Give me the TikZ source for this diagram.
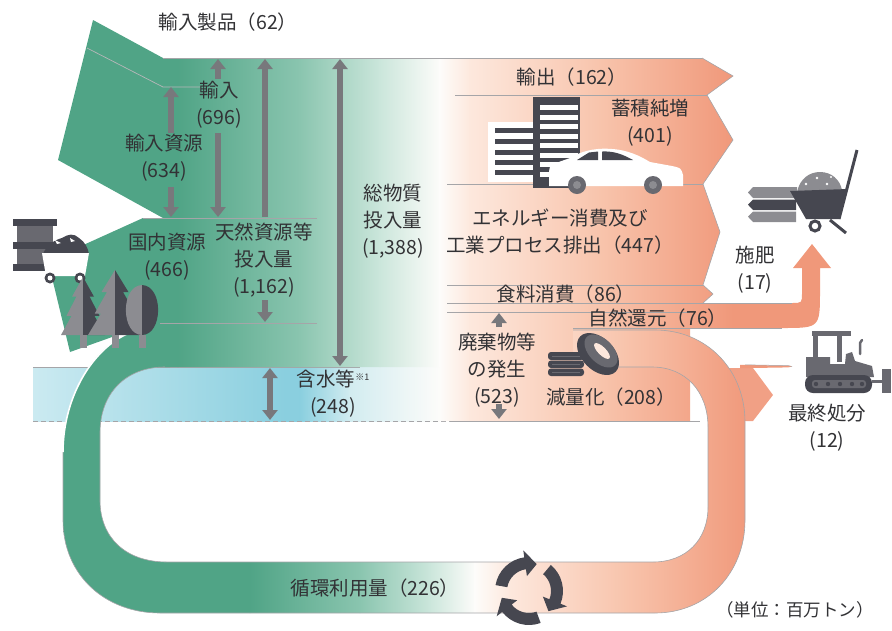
\documentclass[tikz,border=0pt]{standalone}
\usepackage{fontspec}
\newfontfamily\jpfont{Noto Sans CJK JP}
\usetikzlibrary{arrows.meta}

\definecolor{flowG}{RGB}{80,164,134}
\definecolor{flowGa}{RGB}{138,197,175}
\definecolor{flowGb}{RGB}{203,230,219}
\definecolor{flowW}{RGB}{253,252,250}
\definecolor{flowPa}{RGB}{253,232,221}
\definecolor{flowPb}{RGB}{248,196,172}
\definecolor{flowPc}{RGB}{240,152,122}
\definecolor{waterA}{RGB}{203,234,241}
\definecolor{waterB}{RGB}{138,207,223}
\definecolor{waterC}{RGB}{210,236,240}
\definecolor{edgegray}{RGB}{165,165,168}
\definecolor{arrowgray}{RGB}{120,120,124}
\definecolor{icondark}{RGB}{70,71,80}
\definecolor{iconmid}{RGB}{105,105,112}
\definecolor{iconlight}{RGB}{140,140,145}
\definecolor{textgray}{RGB}{50,50,53}

% horizontal piecewise gradient: top y, bottom y, list of x0/c0/x1/c1
\newcommand\hgrad[3]{%
  \foreach \xa/\ca/\xb/\cb in {#3} {%
    \shade[left color=\ca,right color=\cb] (\xa-0.4,#1) rectangle (\xb+0.4,#2);}}

% conifer: centre x, top y, base y, half width
\newcommand\mkconifer[4]{%
  \pgfmathsetmacro\ch{#3-#2}%
  \fill[iconlight] (#1,#2) -- (#1-0.5*#4,#2+0.34*\ch) -- (#1-0.3*#4,#2+0.34*\ch)
    -- (#1-0.75*#4,#2+0.67*\ch) -- (#1-0.52*#4,#2+0.67*\ch) -- (#1-#4,#3) -- (#1,#3) -- cycle;
  \fill[icondark] (#1,#2) -- (#1+0.5*#4,#2+0.34*\ch) -- (#1+0.3*#4,#2+0.34*\ch)
    -- (#1+0.75*#4,#2+0.67*\ch) -- (#1+0.52*#4,#2+0.67*\ch) -- (#1+#4,#3) -- (#1,#3) -- cycle;
  \fill[iconlight] (#1-3.5,#3) rectangle (#1+3.5,#3+13);}

% curved arrow of the recycling mark: start angle, end angle
\newcommand\recycarrow[2]{%
  \fill[icondark] (#1:34) arc[start angle=#1, end angle=#2, radius=34] -- (#2:41)
    -- ({#2+24}:28) -- (#2:15) -- (#2:22) arc[start angle=#2, end angle=#1, radius=22] -- cycle;}

\def\mainpath{(163,58) -- (702,58) -- (733,76) -- (707,95) -- (733,140) -- (703,184)
  -- (720,232) -- (703,285) -- (713,294) -- (703,303) -- (792,303) .. controls (802,303) .. (802,293)
  -- (802,268) -- (793,268) -- (812,244) -- (831,268) -- (820,268) -- (820,290)
  .. controls (820,328) .. (782,328) -- (690,328) -- (690,421) -- (440,421) -- (440,367)
  -- (143,367) -- (143,218) -- (163,218) -- cycle}

\def\looppath{(130,333) .. controls (95,345) and (63,395) .. (63,450) -- (63,520)
  .. controls (63,575) and (105,613) .. (160,613) -- (655,613)
  .. controls (707,613) and (745,573) .. (745,520) -- (745,422)
  .. controls (745,370) and (707,330) .. (655,330) -- (573,330) -- (573,367) -- (652,367)
  .. controls (686,367) and (708,392) .. (708,427) -- (708,507)
  .. controls (708,540) and (686,562) .. (653,562) -- (167,562)
  .. controls (126,562) and (100,538) .. (100,500) -- (100,433)
  .. controls (100,393) and (126,367) .. (165,367) -- (170,367) -- (170,330) -- cycle}

\begin{document}
\begin{tikzpicture}[x=1pt,y=-1pt,
  lbl/.style={font=\jpfont\fontsize{19.5}{27}\selectfont, text=textgray, align=center, inner sep=0pt},
  unitlbl/.style={lbl, font=\jpfont\fontsize{17.5}{22}\selectfont},
  flowedge/.style={draw=edgegray, line width=0.8pt},
  dimarrow/.style={draw=arrowgray, line width=5.5pt, -{Triangle[length=10pt,width=15pt]}},
  dimboth/.style={draw=arrowgray, line width=5.5pt,
    {Triangle[length=10pt,width=15pt]}-{Triangle[length=10pt,width=15pt]}}]
\useasboundingbox (0,0) rectangle (892,630);

% water content band
\begin{scope}
  \clip (33,367) rectangle (440,421);
  \hgrad{367}{421}{33/waterA/285/waterB, 285/waterB/300/waterB, 300/waterB/350/waterC, 350/waterC/440/flowW}
\end{scope}
\draw[flowedge] (33,367) -- (360,367);
\draw[flowedge, dashed, dash pattern=on 5pt off 3pt] (33,421) -- (450,421);

% imported and domestic resources
\fill[flowG] (93,20) -- (163,58) -- (163,218) -- (58,160) -- cycle;
\fill[flowG] (143,218) -- (48,261) -- (70,352) -- (143,326) -- cycle;

% main flow band
\begin{scope}
  \clip \mainpath;
  \hgrad{50}{425}{140/flowG/178/flowG, 178/flowG/300/flowGa, 300/flowGa/380/flowGb, 380/flowGb/440/flowW, 440/flowW/470/flowPa, 470/flowPa/600/flowPb, 600/flowPb/733/flowPc, 733/flowPc/840/flowPc}
\end{scope}

% final disposal
\fill[flowPc!92!white] (715,368) -- (753,368) -- (773,395) -- (753,421) -- (715,421) -- cycle;
\fill[flowPc] (740,364.8) -- (788,365.6) -- (792,366.5) -- (788,367.4) -- (740,368.2) -- cycle;
\draw[edgegray, line width=0.5pt] (745,364.8) -- (788,365.6) -- (792,366.5);

% recycling loop
\begin{scope}
  \clip \looppath;
  \hgrad{325}{620}{40/flowG/250/flowG, 250/flowG/360/flowGa, 360/flowGa/430/flowGb, 430/flowGb/475/flowW, 475/flowW/510/flowPa, 510/flowPa/625/flowPb, 625/flowPb/750/flowPc}
\end{scope}
\draw[flowedge, line width=0.6pt] (573,330) -- (655,330) .. controls (707,330) and (745,370) .. (745,422)
  -- (745,520) .. controls (745,573) and (707,613) .. (655,613) -- (160,613)
  .. controls (105,613) and (63,575) .. (63,520) -- (63,450);
\draw[white, line width=1.6pt] (63,452) .. controls (63,395) and (95,345) .. (132,332);
\draw[flowedge, line width=0.6pt] (618,367) -- (652,367) .. controls (686,367) and (708,392) .. (708,427)
  -- (708,507) .. controls (708,540) and (686,562) .. (653,562) -- (167,562)
  .. controls (126,562) and (100,538) .. (100,500) -- (100,433)
  .. controls (100,393) and (126,367) .. (165,367);

% band separators
\draw[edgegray!80, line width=0.7pt] (87,48) -- (163,87) -- (200,87);
\draw[flowedge] (163,58) -- (702,58);
\draw[flowedge, line width=0.6pt] (702,58) -- (733,76) -- (707,95) -- (733,140) -- (703,184)
  -- (720,232) -- (703,285) -- (713,294) -- (703,303);
\draw[flowedge] (143,218) -- (317,218);
\draw[flowedge] (160,323) -- (317,323);
\draw[flowedge] (455,95) -- (707,95);
\draw[flowedge] (447,184) -- (703,184);
\draw[flowedge] (447,285) -- (703,285);
\draw[flowedge] (447,303) -- (792,303);
\draw[flowedge] (447,312) -- (690,312);
\draw[flowedge] (573,328) -- (782,328);
\draw[flowedge] (450,421) -- (700,421);

% dimension arrows
\coordinate (ir1) at (171,133); \coordinate (ir2) at (171,87);
\coordinate (ir3) at (171,187); \coordinate (ir4) at (171,217);
\coordinate (im1) at (218,79);  \coordinate (im2) at (218,59);
\coordinate (im3) at (218,133); \coordinate (im4) at (218,217);
\coordinate (nr1) at (265,217); \coordinate (nr2) at (265,59);
\coordinate (nr3) at (265,300); \coordinate (nr4) at (265,322);
\coordinate (tm1) at (340,59);  \coordinate (tm2) at (340,366);
\coordinate (wc1) at (270,368); \coordinate (wc2) at (270,420);
\coordinate (wg1) at (499,327); \coordinate (wg2) at (499,313);
\coordinate (wg3) at (499,404); \coordinate (wg4) at (499,419);
\draw[dimarrow] (ir1) -- (ir2);
\draw[dimarrow] (ir3) -- (ir4);
\draw[dimarrow] (im1) -- (im2);
\draw[dimarrow] (im3) -- (im4);
\draw[dimarrow] (nr1) -- (nr2);
\draw[dimarrow] (nr3) -- (nr4);
\draw[dimboth] (tm1) -- (tm2);
\draw[dimboth] (wc1) -- (wc2);
\draw[dimarrow] (wg1) -- (wg2);
\draw[dimarrow] (wg3) -- (wg4);

% barrel and mine cart
\fill[iconmid] (17,224) rectangle (53,266);
\fill[icondark] (13,219) rectangle (57,226);
\fill[icondark] (13,242) rectangle (57,249);
\fill[icondark] (13,264) rectangle (57,271);
\fill[icondark] (43,254) .. controls (47,244) and (55,240) .. (62,238) .. controls (68,234) and (74,233) .. (79,238)
  .. controls (85,242) and (88,248) .. (89,254) -- cycle;
\fill[white] (55,240) -- (61,243) -- (57,244) -- cycle;
\fill[white] (70,238) -- (75,241) -- (71,242) -- cycle;
\fill[white] (42,253) -- (89,253) -- (85,276) -- (46,276) -- cycle;
\fill[icondark] (50,278) circle (5.5);
\fill[white] (50,278) circle (2.5);
\fill[icondark] (80,278) circle (5.5);
\fill[white] (80,278) circle (2.5);

% trees
\mkconifer{83}{277}{335}{22}
\mkconifer{115}{270}{335}{27}
\fill[iconlight] (142,285) .. controls (120,286) and (121,335) .. (142,335) -- cycle;
\fill[icondark] (142,285) .. controls (164,286) and (163,335) .. (142,335) -- cycle;
\fill[iconlight] (138.5,335) rectangle (146,348);

% buildings and car
\fill[white] (488,122) rectangle (536,182);
\foreach \yy in {128,139,150,160,170} {\fill[icondark] (495,\yy) rectangle (536,\yy+5);}
\fill[icondark] (533,97) rectangle (580,188);
\foreach \yy in {0,...,7} {\fill[white] (540,105+9.5*\yy) rectangle (578,110+9.5*\yy);}
\fill[white] (549,186) -- (549,172) .. controls (550,165) .. (556,163) -- (570,158)
  .. controls (585,149) and (600,148) .. (612,149) .. controls (628,150) and (640,156) .. (650,162)
  -- (672,166) .. controls (681,168) .. (683,175) -- (683,186) -- cycle;
\fill[icondark] (577,160) -- (589,152.5) -- (598,151.5) -- (598,160) -- cycle;
\fill[icondark] (602,160) -- (602,151.5) .. controls (614,151) and (622,154) .. (633,160) -- cycle;
\fill[iconmid] (577,185) circle (9);
\fill[iconlight] (577,185) circle (4);
\fill[iconmid] (653,185) circle (9);
\fill[iconlight] (653,185) circle (4);

% wheelbarrow with fertiliser
\fill[iconlight] (753,187) -- (797,187) -- (797,198) -- (753,198) -- (748,192.5) -- cycle;
\fill[icondark] (753,199.5) -- (796,199.5) -- (796,210) -- (753,210) -- (748,204.7) -- cycle;
\fill[iconlight] (753,211.5) -- (796,211.5) -- (796,222) -- (753,222) -- (748,216.7) -- cycle;
\fill[iconlight] (797,192) .. controls (800,178) and (810,172) .. (820,172) .. controls (832,172) and (840,180) .. (842,190) -- cycle;
\fill[white] (806,184) circle (1.4); \fill[white] (817,178) circle (1.4);
\fill[white] (827,184) circle (1.4); \fill[white] (831,177) circle (1.2);
\fill[icondark] (790,191) -- (848,189) -- (839,219) -- (806,219) -- cycle;
\draw[icondark, line width=3pt] (839,219) -- (857,150);
\draw[icondark, line width=3pt] (830,220) -- (846,233);
\draw[icondark, line width=3pt] (815,226) circle (5);

% bulldozer
\fill[iconmid] (812,331) rectangle (851,336);
\fill[iconmid] (813,336) rectangle (818,358);
\fill[iconmid] (837,336) rectangle (842,362);
\fill[iconmid] (806,357) -- (830,357) -- (830,364) -- (845,364) -- (846,354) -- (852,352) -- (855,361)
  -- (872,366) -- (874,377) -- (806,377) -- cycle;
\draw[iconmid, line width=2.5pt, line cap=round] (860,354) -- (860,343) -- (862,340);
\fill[icondark, rounded corners=8pt] (805,375) rectangle (872,393);
\fill[iconmid, rounded corners=3pt] (812,380) rectangle (866,388);
\foreach \xx in {816,828,840,852,862} {\fill[icondark] (\xx,384) circle (2.2);}
\draw[iconmid, line width=3pt] (872,381) -- (884,381);
\fill[iconmid] (882,369) rectangle (891,393);

% tyres
\fill[icondark, rounded corners=3pt] (548,352) rectangle (584,360);
\fill[icondark, rounded corners=3pt] (548,360.5) rectangle (584,368);
\fill[icondark, rounded corners=3pt] (548,368.5) rectangle (584,376);
\draw[iconmid, line width=0.8pt] (552,356) -- (580,356) (552,364) -- (580,364) (552,372) -- (580,372);
\fill[icondark, rotate around={-45:(598,354)}] (598,354) ellipse [x radius=25, y radius=16];
\fill[iconmid, rotate around={-45:(601,351)}] (601,351) ellipse [x radius=20, y radius=12];
\fill[flowPa, rotate around={-45:(602,351)}] (602,351) ellipse [x radius=10.5, y radius=4];

% recycling symbol
\begin{scope}[shift={(529,591)}]
  \recycarrow{190}{262}
  \recycarrow{310}{382}
  \recycarrow{70}{142}
\end{scope}

% labels
\node[lbl] (t62) at (228,22) {輸入製品（62）};
\node[lbl] (t696) at (219,105) {輸入\\(696)};
\node[lbl] (t634) at (164,158) {輸入資源\\(634)};
\node[lbl] (t466) at (167,257) {国内資源\\(466)};
\node[lbl] (t1162) at (264,260) {天然資源等\\投入量\\(1,162)};
\node[lbl] (t1388) at (393,221) {総物質\\投入量\\(1,388)};
\node[lbl] (t248) at (333,394) {含水等{\fontsize{9}{9}\selectfont\raisebox{6pt}{※1}}\\(248)};
\node[lbl] (t162) at (572,77) {輸出（162）};
\node[lbl] (t401) at (650,123) {蓄積純増\\(401)};
\node[lbl] (t447) at (560,232) {エネルギー消費及び\\工業プロセス排出（447）};
\node[lbl] (t86) at (566,294) {食料消費（86）};
\node[lbl] (t76) at (658,318) {自然還元（76）};
\node[lbl] (t17) at (755,270) {施肥\\(17)};
\node[lbl] (t523) at (497,370) {廃棄物等\\の発生\\(523)};
\node[lbl] (t208) at (611,397) {減量化（208）};
\node[lbl] (t12) at (827,428) {最終処分\\(12)};
\node[lbl] (t226) at (375,588) {循環利用量（226）};
\node[unitlbl] (tunit) at (795,610) {（単位：百万トン）};
\end{tikzpicture}
\end{document}
